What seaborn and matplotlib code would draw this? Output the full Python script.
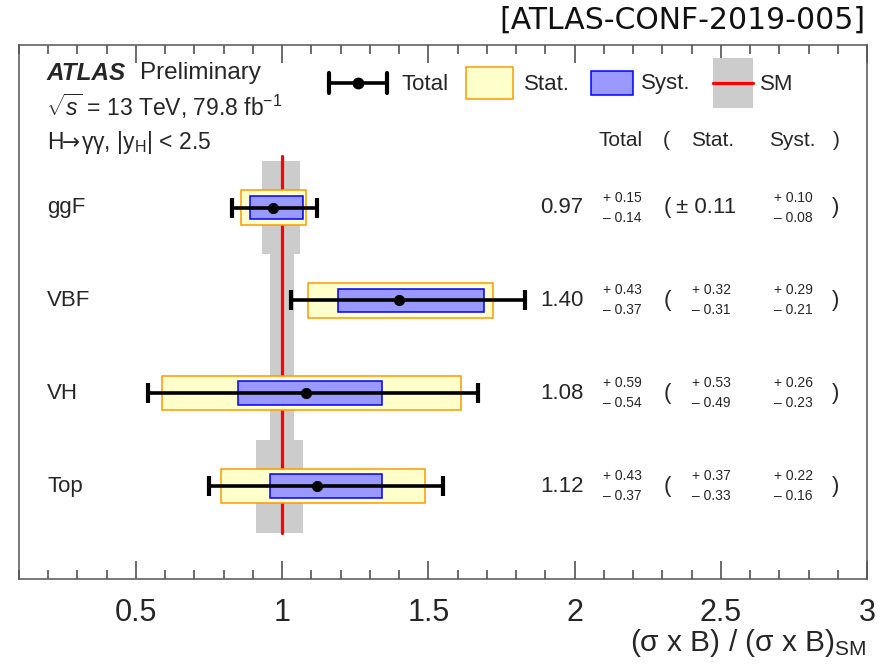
import matplotlib
matplotlib.use("Agg")
import matplotlib.pyplot as plt
import seaborn as sns
import numpy as np
from matplotlib.ticker import MultipleLocator, FuncFormatter
from matplotlib.patches import Rectangle
from matplotlib.lines import Line2D

# ---------------- data ----------------
categories = ["ggF", "VBF", "VH", "Top"]
ypos = [4, 3, 2, 1]
values = [0.97, 1.40, 1.08, 1.12]
tot_up = [0.15, 0.43, 0.59, 0.43]
tot_dn = [0.14, 0.37, 0.54, 0.37]
stat_up = [0.11, 0.32, 0.53, 0.37]
stat_dn = [0.11, 0.31, 0.49, 0.33]
syst_up = [0.10, 0.29, 0.26, 0.22]
syst_dn = [0.08, 0.21, 0.23, 0.16]
sm_lo = [0.93, 0.96, 0.96, 0.91]
sm_hi = [1.06, 1.04, 1.04, 1.07]
xticks = [0.5, 1, 1.5, 2, 2.5, 3]

# ---------------- style ----------------
sns.set_style("ticks")
plt.rcParams['font.family'] = ['Liberation Sans', 'DejaVu Sans']
plt.rcParams['mathtext.fontset'] = 'custom'
plt.rcParams['mathtext.rm'] = 'Liberation Sans'
plt.rcParams['mathtext.it'] = 'Liberation Sans:italic'
plt.rcParams['mathtext.bf'] = 'Liberation Sans:bold'

W, H = 889, 665
fig = plt.figure(figsize=(W / 100, H / 100), dpi=100)
L, R, T, B = 19, 867, 45, 579
ax = fig.add_axes([L / W, 1 - B / H, (R - L) / W, (B - T) / H])

YELLOW, ORANGE = "#ffffcc", "#ff9900"
BLUE_F, BLUE_E = "#9999ff", "#0000ff"
GREY = "#cccccc"

# SM theory band
ax.barh(ypos, np.array(sm_hi) - np.array(sm_lo), left=sm_lo, height=1.0,
        color=GREY, edgecolor="none", zorder=1)
ax.plot([1, 1], [min(ypos) - 0.5, max(ypos) + 0.55], color="#ff0000", lw=2.3, zorder=2)

v = np.array(values)
# stat boxes
ax.barh(ypos, np.array(stat_up) + np.array(stat_dn), left=v - np.array(stat_dn),
        height=0.37, color=YELLOW, edgecolor=ORANGE, linewidth=1.1, zorder=3)
# syst boxes
ax.barh(ypos, np.array(syst_up) + np.array(syst_dn), left=v - np.array(syst_dn),
        height=0.255, color=BLUE_F, edgecolor=BLUE_E, linewidth=1.1, zorder=4)
# total error bars
ax.errorbar(values, ypos, xerr=[tot_dn, tot_up], fmt="none", ecolor="black",
            elinewidth=2.6, capsize=7.5, capthick=3, zorder=5)
sns.scatterplot(x=values, y=ypos, ax=ax, color="black", s=55, edgecolor="black",
                zorder=6, legend=False)

ax.set_xlim(0.1, 3.0)
ax.set_ylim(0, 5.75)
ax.set_yticks([])
ax.set_xticks(xticks)
ax.xaxis.set_minor_locator(MultipleLocator(0.1))
ax.xaxis.set_major_formatter(FuncFormatter(lambda x, p: "%g" % x))
ax.tick_params(axis="x", which="both", direction="in", top=True, bottom=True,
               color="#444444", width=1.1)
ax.tick_params(axis="x", which="major", length=13, labelsize=22, pad=14)
ax.tick_params(axis="x", which="minor", length=6.5)
for s in ax.spines.values():
    s.set_visible(True)
    s.set_color("#555555")
    s.set_linewidth(1.1)
ax.set_xlabel("")
ax.set_ylabel("")

# ---------------- overlay (pixel coords) ----------------
ov = fig.add_axes([0, 0, 1, 1], zorder=10)
ov.set_xlim(0, W)
ov.set_ylim(H, 0)
ov.axis("off")
ov.patch.set_alpha(0)

ov.text(866, 20, "[ATLAS-CONF-2019-005]", ha="right", va="center",
        fontsize=21.5, family="DejaVu Sans", color="#111111")

ov.text(866, 643, r"(σ x B) / (σ x B)$_{\mathrm{SM}}$", ha="right", va="center",
        fontsize=21.5)

ov.text(46, 73, "ATLAS", ha="left", va="center", fontsize=17.5,
        fontweight="bold", fontstyle="italic")
ov.text(140, 73, "Preliminary", ha="left", va="center", fontsize=17.5)
ov.text(46, 106, r"$\sqrt{s}$ = 13 TeV, 79.8 fb$^{-1}$", ha="left", va="center",
        fontsize=16.5)
hb = 149
ov.text(47, hb, "H", ha="left", va="baseline", fontsize=16.5)
ov.text(62, hb, "→", ha="left", va="baseline", fontsize=15.5, family="DejaVu Sans")
ov.text(81, hb, r"γγ, |y$_{\mathrm{H}}$| < 2.5", ha="left", va="baseline",
        fontsize=16.5)

# legend
ly = 83
ov.add_line(Line2D([329, 387], [ly, ly], color="black", lw=2.6))
ov.add_line(Line2D([329, 329], [ly - 10, ly + 10], color="black", lw=3))
ov.add_line(Line2D([387, 387], [ly - 10, ly + 10], color="black", lw=3))
ov.plot([358], [ly], "o", color="black", ms=7.5)
ov.text(402, ly + 1, "Total", ha="left", va="center", fontsize=16)
ov.add_patch(Rectangle((466, ly - 16), 47, 32, facecolor=YELLOW, edgecolor=ORANGE, lw=1.1))
ov.text(524, ly + 1, "Stat.", ha="left", va="center", fontsize=16)
ov.add_patch(Rectangle((591, ly - 12), 42, 24, facecolor=BLUE_F, edgecolor=BLUE_E, lw=1.1))
ov.text(641, ly + 1, "Syst.", ha="left", va="center", fontsize=16)
ov.add_patch(Rectangle((713, 58), 40, 50, facecolor=GREY, edgecolor="none"))
ov.add_line(Line2D([713, 753], [ly, ly], color="#ff0000", lw=2.3))
ov.text(760, ly + 1, "SM", ha="left", va="center", fontsize=16)

# column headers
hy = 140
ov.text(621, hy, "Total", ha="center", va="center", fontsize=15)
ov.text(666, hy, "(", ha="center", va="center", fontsize=15)
ov.text(713, hy, "Stat.", ha="center", va="center", fontsize=15)
ov.text(792, hy, "Syst.", ha="center", va="center", fontsize=15)
ov.text(836, hy, ")", ha="center", va="center", fontsize=15)

# category labels + numbers
for i, cat in enumerate(categories):
    py = B - ypos[i] * (B - T) / 5.75
    ov.text(47, py, cat, ha="left", va="center", fontsize=16)
    ov.text(562, py, "%.2f" % values[i], ha="center", va="center", fontsize=16)
    ov.text(603, py - 10, "+ %.2f" % tot_up[i], ha="left", va="center", fontsize=10)
    ov.text(603, py + 10, "– %.2f" % tot_dn[i], ha="left", va="center", fontsize=10)
    ov.text(667, py, "(", ha="center", va="center", fontsize=16)
    if abs(stat_up[i] - stat_dn[i]) < 1e-9:
        ov.text(676, py, "± %.2f" % stat_up[i], ha="left", va="center", fontsize=16)
    else:
        ov.text(692, py - 10, "+ %.2f" % stat_up[i], ha="left", va="center", fontsize=10)
        ov.text(692, py + 10, "– %.2f" % stat_dn[i], ha="left", va="center", fontsize=10)
    ov.text(774, py - 10, "+ %.2f" % syst_up[i], ha="left", va="center", fontsize=10)
    ov.text(774, py + 10, "– %.2f" % syst_dn[i], ha="left", va="center", fontsize=10)
    ov.text(836, py, ")", ha="center", va="center", fontsize=16)

fig.savefig("out.png", dpi=100)
